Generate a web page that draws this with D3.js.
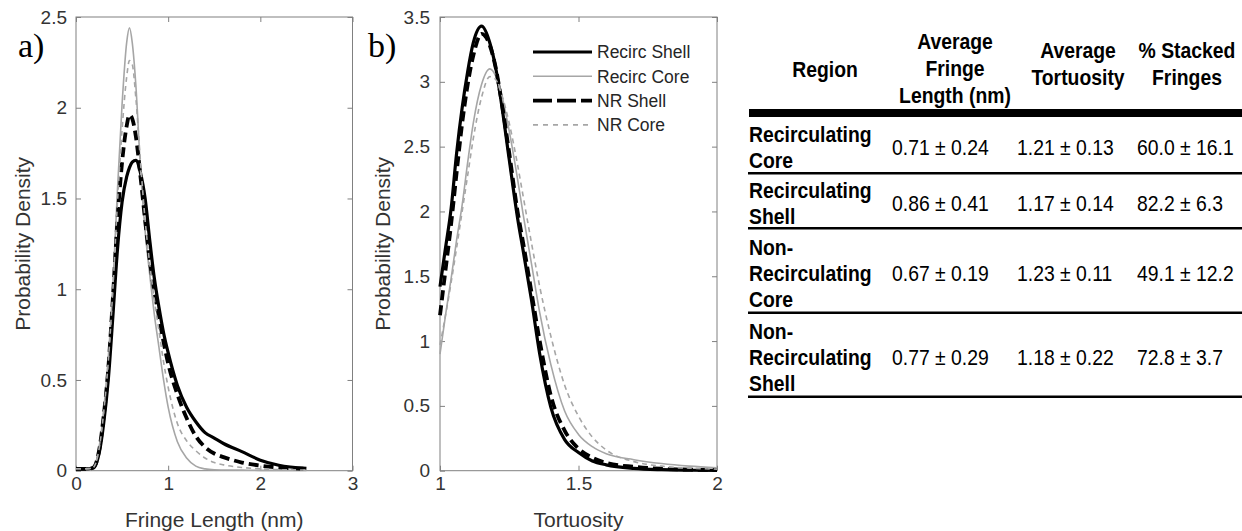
<!DOCTYPE html>
<html><head><meta charset="utf-8">
<script src="https://cdn.jsdelivr.net/npm/d3@7"></script>
<style>body{margin:0;background:#fff}svg{display:block}</style>
</head><body>
<svg id="c" width="1242" height="531"></svg>
<script>
// ---------------- DATA ----------------
const seriesNames = ["Recirc Shell", "Recirc Core", "NR Shell", "NR Core"];

// Panel a) Fringe length (nm) vs probability density
const fringeLength = [0, 0.1, 0.18, 0.22, 0.26, 0.3, 0.35, 0.4, 0.45, 0.5, 0.55, 0.58, 0.61, 0.65, 0.7, 0.75, 0.8, 0.85, 0.9, 0.95, 1.0, 1.1, 1.2, 1.3, 1.4, 1.5, 1.6, 1.8, 2.0, 2.2, 2.5];
const flRecircShell = [0.01, 0.01, 0.015, 0.04, 0.12, 0.26, 0.5, 0.85, 1.22, 1.48, 1.62, 1.67, 1.70, 1.71, 1.64, 1.5, 1.27, 1.06, 0.9, 0.76, 0.65, 0.47, 0.35, 0.27, 0.21, 0.18, 0.15, 0.105, 0.058, 0.03, 0.013];
const flRecircCore  = [0.01, 0.01, 0.015, 0.05, 0.16, 0.33, 0.62, 1.02, 1.55, 2.02, 2.36, 2.44, 2.36, 2.12, 1.66, 1.32, 1.08, 0.86, 0.68, 0.5, 0.35, 0.16, 0.07, 0.025, 0.01, 0.005, 0.004, 0.003, 0.002, 0.002, 0.002];
const flNRShell     = [0.01, 0.01, 0.015, 0.045, 0.14, 0.3, 0.56, 0.95, 1.38, 1.7, 1.9, 1.96, 1.94, 1.84, 1.62, 1.38, 1.16, 0.99, 0.85, 0.71, 0.59, 0.42, 0.29, 0.19, 0.13, 0.095, 0.075, 0.045, 0.028, 0.018, 0.01];
const flNRCore      = [0.01, 0.01, 0.015, 0.05, 0.15, 0.32, 0.6, 1.0, 1.48, 1.88, 2.17, 2.26, 2.24, 2.05, 1.7, 1.38, 1.14, 0.94, 0.77, 0.6, 0.46, 0.26, 0.165, 0.11, 0.07, 0.045, 0.032, 0.018, 0.01, 0.006, 0.004];

// Panel b) Tortuosity vs probability density
const tortuosity = [1.0, 1.02, 1.04, 1.06, 1.08, 1.1, 1.12, 1.15, 1.18, 1.2, 1.22, 1.25, 1.28, 1.3, 1.33, 1.36, 1.4, 1.45, 1.5, 1.55, 1.6, 1.7, 1.8, 1.9, 2.0];
const toRecircShell = [1.42, 1.72, 2.02, 2.45, 2.8, 3.08, 3.3, 3.43, 3.3, 3.12, 2.86, 2.4, 1.95, 1.7, 1.32, 0.9, 0.49, 0.24, 0.14, 0.075, 0.045, 0.018, 0.008, 0.004, 0.002];
const toRecircCore  = [0.9, 1.2, 1.48, 1.78, 2.05, 2.38, 2.68, 2.98, 3.1, 3.05, 2.92, 2.62, 2.25, 1.98, 1.6, 1.22, 0.82, 0.46, 0.28, 0.185, 0.13, 0.085, 0.055, 0.035, 0.022];
const toNRShell     = [1.2, 1.55, 1.9, 2.3, 2.68, 2.98, 3.2, 3.37, 3.28, 3.12, 2.88, 2.45, 2.0, 1.76, 1.38, 1.0, 0.58, 0.31, 0.17, 0.1, 0.06, 0.03, 0.015, 0.008, 0.005];
const toNRCore      = [0.97, 1.2, 1.45, 1.72, 2.0, 2.28, 2.56, 2.88, 3.04, 3.02, 2.92, 2.68, 2.36, 2.12, 1.76, 1.42, 1.04, 0.66, 0.42, 0.26, 0.16, 0.07, 0.035, 0.02, 0.012];

// Axis ticks
const fringeTicks = [0, 1, 2, 3];
const fringeDensityTicks = [0, 0.5, 1, 1.5, 2, 2.5];
const tortTicks = [1, 1.5, 2];
const tortDensityTicks = [0, 0.5, 1, 1.5, 2, 2.5, 3, 3.5];

// Table
const tableHeaders = [["Region"], ["Average", "Fringe", "Length (nm)"], ["Average", "Tortuosity"], ["% Stacked", "Fringes"]];
const tableRegions = [["Recirculating", "Core"], ["Recirculating", "Shell"], ["Non-", "Recirculating", "Core"], ["Non-", "Recirculating", "Shell"]];
const avgFringeLength = ["0.71 ± 0.24", "0.86 ± 0.41", "0.67 ± 0.19", "0.77 ± 0.29"];
const avgTortuosity   = ["1.21 ± 0.13", "1.17 ± 0.14", "1.23 ± 0.11", "1.18 ± 0.22"];
const pctStacked      = ["60.0 ± 16.1", "82.2 ± 6.3", "49.1 ± 12.2", "72.8 ± 3.7"];

// ---------------- STYLE ----------------
const sansFont = "'Liberation Sans', Arial, Helvetica, sans-serif";
const serifFont = "'Liberation Serif', 'Times New Roman', serif";
const textColor = "#333333";
const axisColor = "#808080";
const lineStyle = {
  "Recirc Shell": {color: "#000000", width: 3.2, dash: null, legendDash: null},
  "Recirc Core":  {color: "#a6a6a6", width: 1.6, dash: null, legendDash: null},
  "NR Shell":     {color: "#000000", width: 3.8, dash: "10,5", legendDash: "19,5"},
  "NR Core":      {color: "#a6a6a6", width: 1.6, dash: "5,4", legendDash: "5,5"}
};

const svg = d3.select("#c");

function panel(o) {
  const x = d3.scaleLinear().domain(o.xDomain).range([o.left, o.right]);
  const y = d3.scaleLinear().domain(o.yDomain).range([o.bottom, o.top]);
  const g = svg.append("g");
  const fmt = d3.format("~g");

  function styleAxis(sel, showText) {
    sel.select(".domain").remove();
    sel.selectAll(".tick line").attr("stroke", axisColor).attr("stroke-width", 1);
    sel.attr("font-family", sansFont).attr("font-size", 19);
    sel.selectAll(".tick text").attr("fill", textColor);
    if (!showText) sel.selectAll(".tick text").remove();
  }
  g.append("g").attr("transform", `translate(0,${o.bottom})`)
    .call(d3.axisBottom(x).tickValues(o.xTicks).tickSizeInner(-5).tickSizeOuter(0).tickPadding(6).tickFormat(fmt))
    .call(s => styleAxis(s, true));
  g.append("g").attr("transform", `translate(0,${o.top})`)
    .call(d3.axisTop(x).tickValues(o.xTicks).tickSizeInner(-5).tickSizeOuter(0).tickFormat(fmt))
    .call(s => styleAxis(s, false));
  g.append("g").attr("transform", `translate(${o.left},0)`)
    .call(d3.axisLeft(y).tickValues(o.yTicks).tickSizeInner(-5).tickSizeOuter(0).tickPadding(o.yPad).tickFormat(fmt))
    .call(s => styleAxis(s, true));
  g.append("g").attr("transform", `translate(${o.right},0)`)
    .call(d3.axisRight(y).tickValues(o.yTicks).tickSizeInner(-5).tickSizeOuter(0).tickFormat(fmt))
    .call(s => styleAxis(s, false));
  g.append("rect").attr("x", o.left).attr("y", o.top)
    .attr("width", o.right - o.left).attr("height", o.bottom - o.top)
    .attr("fill", "none").attr("stroke", axisColor).attr("stroke-width", 1);

  const line = d3.line().x(d => x(d[0])).y(d => y(d[1])).curve(d3.curveMonotoneX);
  o.series.forEach((vals, i) => {
    const st = lineStyle[seriesNames[i]];
    g.append("path").datum(o.xs.map((v, k) => [v, vals[k]]))
      .attr("d", line).attr("fill", "none")
      .attr("stroke", st.color).attr("stroke-width", st.width)
      .attr("stroke-linejoin", "round")
      .attr("stroke-dasharray", st.dash);
  });

  // axis labels
  g.append("text").attr("x", (o.left + o.right) / 2).attr("y", 527)
    .attr("text-anchor", "middle").attr("font-family", sansFont).attr("font-size", 21)
    .attr("fill", textColor).text(o.xLabel);
  g.append("text").attr("transform", `translate(${o.yLabelX},${(o.top + o.bottom) / 2}) rotate(-90)`)
    .attr("text-anchor", "middle").attr("font-family", sansFont).attr("font-size", 21)
    .attr("fill", textColor).text(o.yLabel);
  // panel letter
  g.append("text").attr("x", o.letterX).attr("y", 57)
    .attr("font-family", serifFont).attr("font-size", 34).attr("fill", "#000").text(o.letter);
  return {x, y, g};
}

panel({
  left: 76, right: 352.5, top: 17, bottom: 470.7,
  xDomain: [0, 3], yDomain: [0, 2.5], xTicks: fringeTicks, yTicks: fringeDensityTicks, yPad: 9,
  xs: fringeLength, series: [flRecircShell, flRecircCore, flNRShell, flNRCore],
  xLabel: "Fringe Length (nm)", yLabel: "Probability Density", yLabelX: 30,
  letter: "a)", letterX: 18
});

const pb = panel({
  left: 440, right: 717, top: 17, bottom: 470.7,
  xDomain: [1, 2], yDomain: [0, 3.5], xTicks: tortTicks, yTicks: tortDensityTicks, yPad: 10,
  xs: tortuosity, series: [toRecircShell, toRecircCore, toNRShell, toNRCore],
  xLabel: "Tortuosity", yLabel: "Probability Density", yLabelX: 390,
  letter: "b)", letterX: 368
});

// legend
const leg = svg.append("g");
seriesNames.forEach((name, i) => {
  const st = lineStyle[name];
  const ly = 52 + i * 24.3;
  leg.append("line").attr("x1", 533).attr("x2", 592).attr("y1", ly).attr("y2", ly)
    .attr("stroke", st.color).attr("stroke-width", st.width).attr("stroke-dasharray", st.legendDash);
  leg.append("text").attr("x", 597).attr("y", ly + 6.3)
    .attr("font-family", sansFont).attr("font-size", 17.5).attr("fill", "#262626").text(name);
});

// ---------------- TABLE ----------------
const tb = svg.append("g").attr("font-family", sansFont).attr("fill", "#000");
const fs = 22, sx = 0.88, capH = 16, lh = 26;
const tableLeft = 749, tableRight = 1242;
const headerCenters = [825, 955, 1078, 1187];
const headerLastBaseline = [77, 103, 85, 85];
const valueStarts = [892, 1017, 1137];
function txt(x, y, s, bold, anchor) {
  tb.append("text").attr("transform", `translate(${x},${y}) scale(${sx},1)`)
    .attr("text-anchor", anchor).attr("font-size", fs)
    .attr("font-weight", bold ? "bold" : "normal").text(s);
}
tableHeaders.forEach((lines, c) => {
  lines.forEach((s, k) => {
    txt(headerCenters[c], headerLastBaseline[c] - (lines.length - 1 - k) * 27, s, true, "middle");
  });
});
// rules
const rules = [113, 173.3, 228.3, 312.7, 396.7];
tb.append("line").attr("x1", tableLeft).attr("x2", tableRight).attr("y1", rules[0]).attr("y2", rules[0])
  .attr("stroke", "#000").attr("stroke-width", 8);
rules.slice(1).forEach(r => {
  tb.append("line").attr("x1", tableLeft - 1).attr("x2", tableRight).attr("y1", r).attr("y2", r)
    .attr("stroke", "#000").attr("stroke-width", 2.5);
});
const valueCols = [avgFringeLength, avgTortuosity, pctStacked];
tableRegions.forEach((lines, r) => {
  const top = r === 0 ? rules[0] + 4 : rules[r] + 1.25;
  const bottom = rules[r + 1] - 1.25;
  const center = (top + bottom) / 2 + 2.5;
  const first = center + capH / 2 - (lines.length - 1) * lh / 2;
  lines.forEach((s, k) => txt(tableLeft, first + k * lh, s, true, "start"));
  const vBase = center + capH / 2;
  valueCols.forEach((col, c) => txt(valueStarts[c], vBase, col[r], false, "start"));
});
</script>
</body></html>
